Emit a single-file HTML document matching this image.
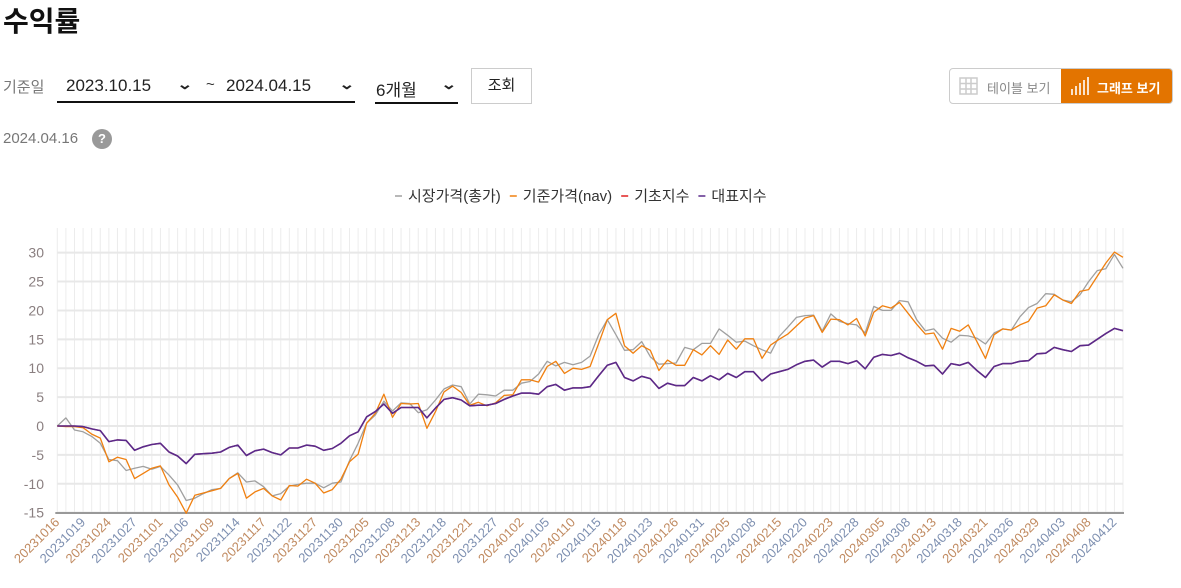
<!DOCTYPE html>
<html lang="ko"><head><meta charset="utf-8">
<style>
body{margin:0;width:1181px;height:588px;background:#fff;font-family:"Liberation Sans","Noto Sans CJK KR",sans-serif;position:relative;overflow:hidden;color:#222}
.a{position:absolute}
.sel{position:absolute;border-bottom:2px solid #111;height:34px;top:68px;font-size:17px}
.sel span{position:absolute;top:8px}
.chev{position:absolute;top:6px;font-size:14px;font-weight:bold;transform:scaleX(1.4)}
</style></head><body>
<div class="a" style="left:3px;top:0px;font-size:28px;font-weight:bold;color:#111">수익률</div>
<div class="a" style="left:3px;top:76px;font-size:15px;color:#777">기준일</div>
<div class="sel" style="left:57px;width:136px;border:none"><span style="left:9px">2023.10.15</span><span class="chev" style="left:122px">⌄</span></div>
<div class="a" style="left:57px;top:101px;width:298px;height:2px;background:#111"></div>
<div class="a" style="left:206px;top:76px;font-size:15px;color:#333">~</div>
<div class="sel" style="left:219px;width:136px;border:none"><span style="left:7px">2024.04.15</span><span class="chev" style="left:122px">⌄</span></div>
<div class="sel" style="left:375px;width:83px"><span style="left:1px">6개월</span><span class="chev" style="left:68px">⌄</span></div>
<div class="a" style="left:471px;top:68px;width:59px;height:34px;border:1px solid #ccc;font-size:15px;text-align:center;line-height:34px;color:#222">조회</div>
<div class="a" style="left:3px;top:130px;font-size:15px;color:#777">2024.04.16</div>
<div class="a" style="left:92px;top:129px;width:20px;height:20px;border-radius:50%;background:#999;color:#fff;font-size:13px;font-weight:bold;text-align:center;line-height:20px">?</div>
<div class="a" style="left:949px;top:68px;width:222px;height:34px;border:1px solid #ccc;border-radius:4px;overflow:hidden">
 <div class="a" style="left:0;top:0;width:111px;height:34px;font-size:13px;color:#888">
  <svg class="a" style="left:9px;top:8px" width="19" height="18"><g fill="none" stroke="#ccc" stroke-width="1.5"><rect x="1" y="1" width="17" height="16"/><line x1="7" y1="1" x2="7" y2="17"/><line x1="12" y1="1" x2="12" y2="17"/><line x1="1" y1="6.5" x2="18" y2="6.5"/><line x1="1" y1="12" x2="18" y2="12"/></g></svg>
  <span class="a" style="left:37px;top:9px">테이블 보기</span></div>
 <div class="a" style="left:111px;top:0;width:112px;height:35px;background:#e37400;color:#fff;font-size:13px;font-weight:bold">
  <svg class="a" style="left:9px;top:7px" width="20" height="20"><g stroke="#fff" stroke-width="1.6"><line x1="2" y1="19" x2="2" y2="13"/><line x1="6" y1="19" x2="6" y2="10"/><line x1="10" y1="19" x2="10" y2="7"/><line x1="14" y1="19" x2="14" y2="4"/><line x1="18" y1="19" x2="18" y2="1"/></g></svg>
  <span class="a" style="left:36px;top:9px">그래프 보기</span></div>
</div>
<svg id="chart" class="a" style="left:0;top:170px" width="1181" height="418"></svg>
<script>
const xLabels=["20231016","20231019","20231024","20231027","20231101","20231106","20231109","20231114","20231117","20231122","20231127","20231130","20231205","20231208","20231213","20231218","20231221","20231227","20240102","20240105","20240110","20240115","20240118","20240123","20240126","20240131","20240205","20240208","20240215","20240220","20240223","20240228","20240305","20240308","20240313","20240318","20240321","20240326","20240329","20240403","20240408","20240412"];
const yTicks=[-15,-10,-5,0,5,10,15,20,25,30];
const marketPrice=[0,1.4,-0.7,-1.0,-1.8,-3.0,-5.8,-6.0,-7.7,-7.3,-7.0,-7.5,-7.0,-8.5,-10.2,-12.9,-12.5,-11.7,-11.0,-10.8,-9.1,-8.1,-9.7,-9.5,-10.5,-12.1,-11.7,-10.4,-10.1,-9.9,-9.9,-10.7,-9.9,-9.7,-6.0,-3.0,0.5,
1.9,4.3,2.6,4.0,3.9,2.3,2.8,4.5,6.4,7.1,6.8,3.8,5.5,5.4,5.2,6.2,6.2,7.4,7.7,9.0,11.2,10.4,11.0,10.6,11.0,12.1,15.8,18.4,15.8,13.1,13.2,14.6,12.0,10.7,
10.8,10.9,13.6,13.2,14.3,14.3,16.8,15.7,14.5,14.7,13.9,13.2,12.6,15.5,17.1,18.8,19.1,19.2,16.4,19.4,18.1,17.7,17.5,16.1,20.7,20.0,20.0,21.7,21.5,
18.4,16.5,16.8,15.2,14.5,15.7,15.6,15.2,14.2,16.1,16.8,16.6,18.9,20.5,21.2,22.9,22.8,21.8,21.5,22.7,25.0,26.9,27.2,29.7,27.3];
const navPrice=[0,-0.1,-0.1,-0.3,-1.4,-2.1,-6.2,-5.4,-5.8,-9.1,-8.2,-7.3,-6.9,-10.2,-12.3,-15.1,-12.0,-11.6,-11.2,-10.8,-9.1,-8.2,-12.5,-11.4,-10.8,-12.1,-12.8,-10.3,-10.4,-9.2,-9.9,-11.6,-11.0,-9.2,-6.2,-4.9,0.5,
2.2,5.5,1.5,3.9,3.8,3.9,-0.4,2.5,5.9,6.9,5.8,3.6,4.1,3.5,4.0,5.3,5.4,8.0,8.0,7.6,10.3,11.2,9.1,10.0,9.8,10.3,14.3,18.4,19.5,13.9,12.6,13.9,13.1,9.6,
11.4,10.5,10.5,13.2,12.3,13.9,12.4,14.9,13.3,15.1,15.1,11.7,14.0,15.0,15.9,17.3,18.7,19.1,16.2,18.5,18.4,17.5,18.6,15.6,19.7,20.8,20.4,21.4,19.5,
17.6,15.9,16.1,13.3,16.9,16.4,17.5,14.6,11.7,15.8,16.8,16.6,17.5,18.1,20.4,20.8,22.7,21.8,21.2,23.3,23.6,25.9,28.2,30.1,29.2];
const repIndex=[0,0,0,-0.1,-0.5,-0.8,-2.7,-2.4,-2.5,-4.2,-3.6,-3.2,-3.0,-4.5,-5.2,-6.5,-4.9,-4.8,-4.7,-4.5,-3.7,-3.3,-5.1,-4.3,-4.0,-4.6,-5.0,-3.8,-3.8,-3.3,-3.5,-4.2,-3.9,-3.0,-1.7,-1.0,1.6,
2.5,3.8,2.2,3.2,3.2,3.2,1.4,3.1,4.6,4.9,4.5,3.5,3.6,3.6,3.9,4.6,5.2,5.7,5.7,5.5,6.8,7.2,6.2,6.6,6.6,6.8,8.7,10.5,11.0,8.4,7.8,8.6,8.2,6.5,
7.4,7.0,7.0,8.4,7.8,8.7,8.0,9.1,8.4,9.4,9.4,7.8,9.0,9.4,9.8,10.6,11.2,11.4,10.2,11.2,11.2,10.8,11.3,9.9,11.9,12.4,12.2,12.6,11.8,
11.2,10.4,10.5,9.0,10.8,10.5,11.0,9.6,8.4,10.3,10.8,10.8,11.2,11.3,12.5,12.6,13.6,13.2,12.9,13.9,14.0,15.0,16.0,16.9,16.5];
const baseIndex=[0,0,0,-0.1,-0.5,-0.8,-2.7,-2.4,-2.5,-4.2,-3.6,-3.2,-3.0,-4.5,-5.2,-6.5,-4.9,-4.8,-4.7,-4.5,-3.7,-3.3,-5.1,-4.3,-4.0,-4.6,-5.0,-3.8,-3.8,-3.3,-3.5,-4.2,-3.9,-3.0,-1.7,-1.0,1.6,
2.5,3.8,2.2,3.2,3.2,3.2,1.4,3.1,4.6,4.9,4.5,3.5,3.6,3.6,3.9,4.6,5.2,5.7,5.7,5.5,6.8,7.2,6.2,6.6,6.6,6.8,8.7,10.5,11.0,8.4,7.8,8.6,8.2,6.5,
7.4,7.0,7.0,8.4,7.8,8.7,8.0,9.1,8.4,9.4,9.4,7.8,9.0,9.4,9.8,10.6,11.2,11.4,10.2,11.2,11.2,10.8,11.3,9.9,11.9,12.4,12.2,12.6,11.8,
11.2,10.4,10.5,9.0,10.8,10.5,11.0,9.6,8.4,10.3,10.8,10.8,11.2,11.3,12.5,12.6,13.6,13.2,12.9,13.9,14.0,15.0,16.0,16.9,16.5];
const seriesNames=["시장가격(총가)","기준가격(nav)","기초지수","대표지수"];
const seriesColors=["#a0a0a0","#f08010","#e02020","#5a2a8a"];

const svg=document.getElementById('chart');
const NS='http://www.w3.org/2000/svg';
const OY=170, X0=57.3, X1=1123, YT=228-OY, YB=513-OY;
const N=marketPrice.length;
const xs=i=>X0+(X1-X0)*i/(N-1);
const ys=v=>(426-OY)-v*(260/45);
function mk(t,attrs){const e=document.createElementNS(NS,t);for(const k in attrs)e.setAttribute(k,attrs[k]);svg.appendChild(e);return e;}
// vertical grid
for(let i=0;i<N;i++){const l=mk('line',{x1:xs(i),x2:xs(i),y1:YT,y2:YB,stroke:'#ececec','stroke-width':1});

}
// horizontal grid + y labels
yTicks.forEach(v=>{const l=mk('line',{x1:X0,x2:X1,y1:ys(v),y2:ys(v),stroke:'#e8e8e8','stroke-width':2});


const t=mk('text',{x:44,y:ys(v)+5,'text-anchor':'end','font-size':14,fill:'#8a7f80','font-family':'Liberation Sans, sans-serif'});t.textContent=v;

});
const ax=mk('line',{x1:X0-2,x2:X1+1,y1:YB,y2:YB,stroke:'#999','stroke-width':2});


// x labels
xLabels.forEach((s,j)=>{const x=xs(j*3);const t=mk('text',{x:x+3,y:YB+10,'text-anchor':'end','font-size':13,fill:j%2?'#7d8fb0':'#c08a60','font-family':'Liberation Sans, sans-serif',transform:`rotate(-45 ${x+3} ${YB+10})`});t.textContent=s;

});
// series
[[marketPrice,0],[navPrice,1],[baseIndex,2],[repIndex,3]].forEach(([arr,k])=>{
const d=arr.map((v,i)=>(i?'L':'M')+xs(i).toFixed(1)+' '+ys(v).toFixed(1)).join(' ');
const p=mk('path',{d:d,fill:'none',stroke:seriesColors[k],'stroke-width':k==3?1.6:1.3,'stroke-linejoin':'round'});

});
// legend
let lx=395;
seriesNames.forEach((n,k)=>{
const m=mk('line',{x1:lx,x2:lx+7,y1:26,y2:26,stroke:seriesColors[k],'stroke-width':1.5});


const t=mk('text',{x:lx+13,y:31,'font-size':15,fill:'#333','font-family':'Liberation Sans, Noto Sans CJK KR, sans-serif'});t.textContent=n;


lx+=13+t.getComputedTextLength()+9;});
</script>
</body></html>
